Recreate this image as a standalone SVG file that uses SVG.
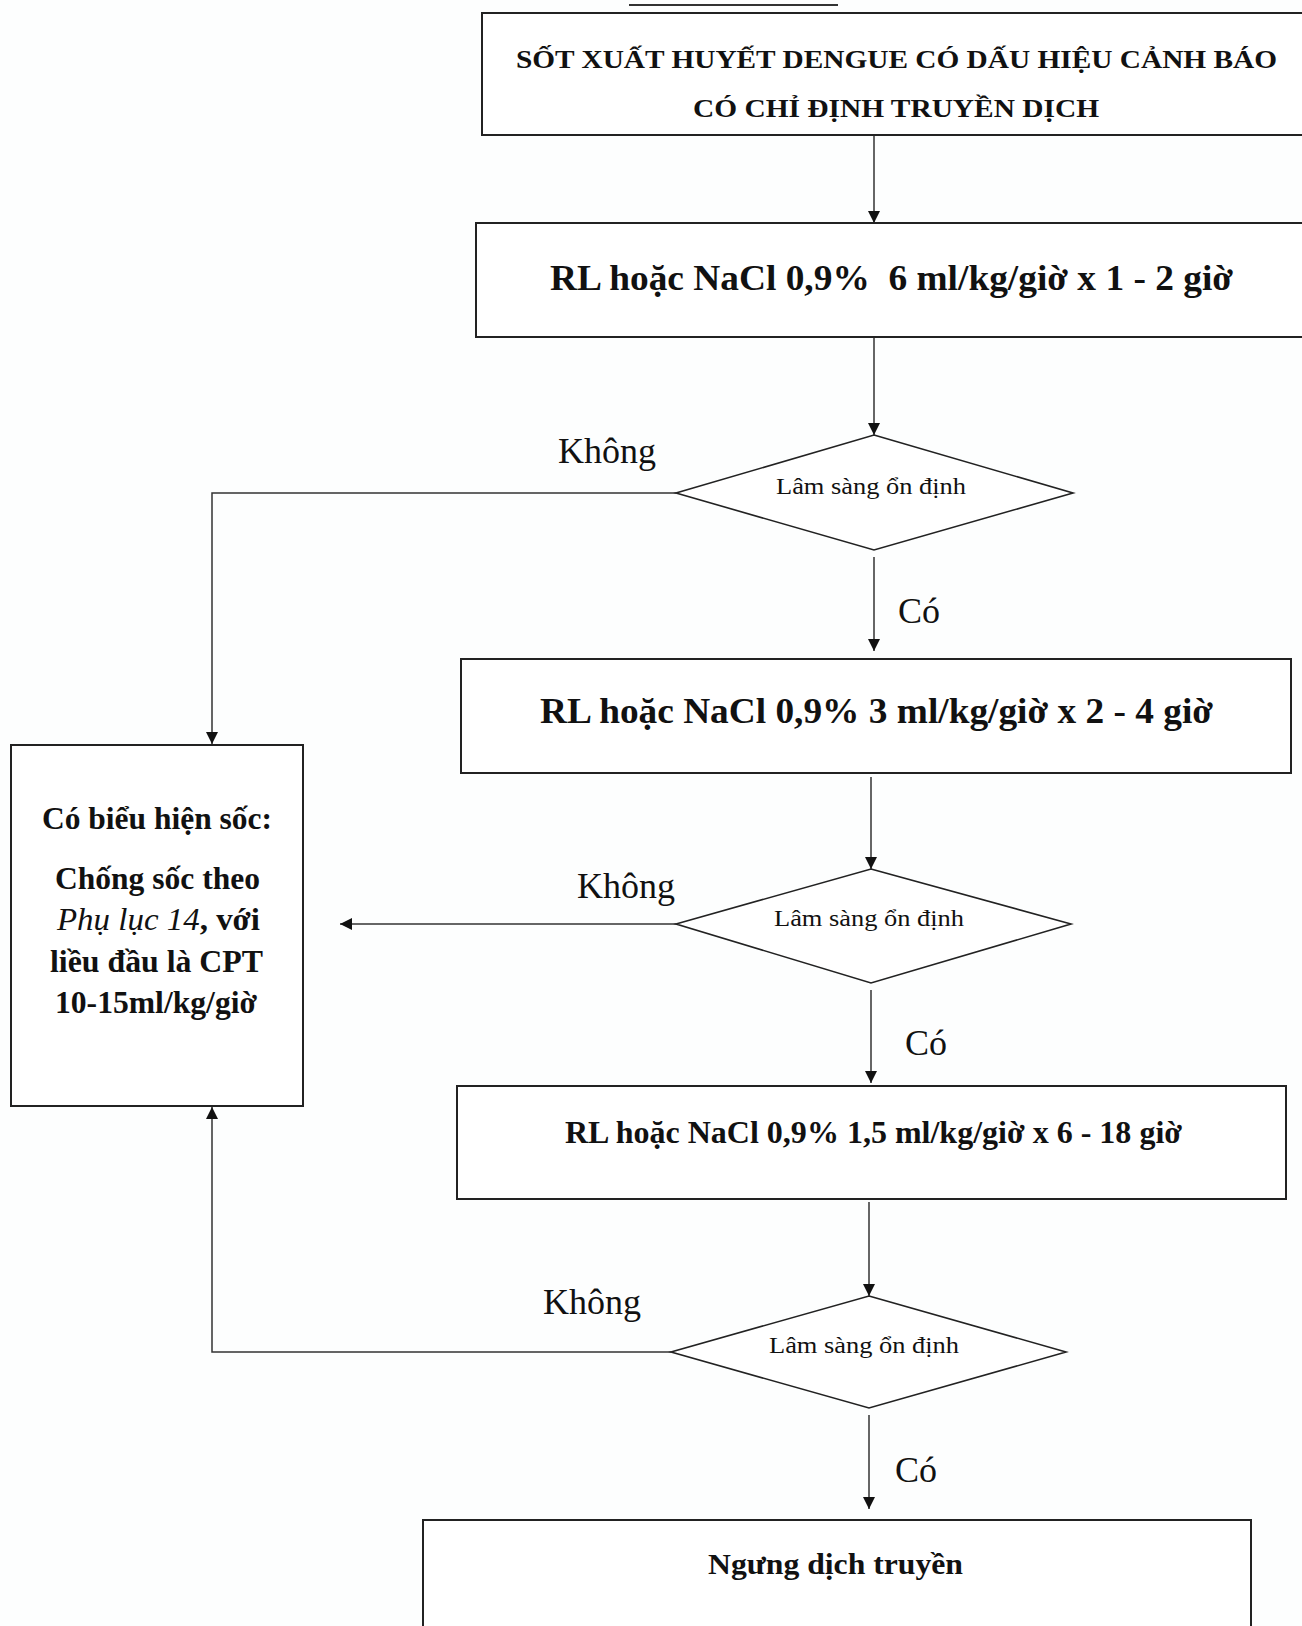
<svg xmlns="http://www.w3.org/2000/svg" width="1302" height="1626" viewBox="0 0 1302 1626">
<style>
.box{fill:#ffffff;stroke:#222;stroke-width:2}
.dia{fill:#ffffff;stroke:#222;stroke-width:1.6}
.ln{fill:none;stroke:#333;stroke-width:1.5}
.t{font-family:"Liberation Serif","Times New Roman",serif;fill:#111}
.b{font-weight:bold}
.lab{font-size:36px}
.dt{font-size:24px}
</style>
<defs>
<marker id="ah" viewBox="0 0 12 14" refX="12" refY="7" markerWidth="12" markerHeight="14" markerUnits="userSpaceOnUse" orient="auto">
<path d="M0,1 L12,7 L0,13 Z" fill="#111"/>
</marker>
</defs>
<rect width="1302" height="1626" fill="#fdfefe"/>
<line x1="629" y1="5" x2="838" y2="5" stroke="#333" stroke-width="2"/>

<g id="connectors">
<line class="ln" x1="874" y1="136" x2="874" y2="223" marker-end="url(#ah)"/>
<line class="ln" x1="874" y1="338" x2="874" y2="435" marker-end="url(#ah)"/>
<polyline class="ln" points="676,493 212,493 212,744" marker-end="url(#ah)"/>
<line class="ln" x1="874" y1="557" x2="874" y2="651" marker-end="url(#ah)"/>
<line class="ln" x1="871" y1="777" x2="871" y2="869" marker-end="url(#ah)"/>
<line class="ln" x1="676" y1="924" x2="340" y2="924" marker-end="url(#ah)"/>
<line class="ln" x1="871" y1="990" x2="871" y2="1083" marker-end="url(#ah)"/>
<line class="ln" x1="869" y1="1202" x2="869" y2="1296" marker-end="url(#ah)"/>
<polyline class="ln" points="671,1352 212,1352 212,1107" marker-end="url(#ah)"/>
<line class="ln" x1="869" y1="1415" x2="869" y2="1509" marker-end="url(#ah)"/>
<text class="t lab" x="558" y="463">Không</text>
<text class="t lab" x="898" y="623">Có</text>
<text class="t lab" x="577" y="898">Không</text>
<text class="t lab" x="905" y="1055">Có</text>
<text class="t lab" x="543" y="1314">Không</text>
<text class="t lab" x="895" y="1482">Có</text>
</g>

<g id="n1">
<rect class="box" x="482" y="13" width="840" height="122"/>
<text class="t b" x="516" y="68" font-size="25" textLength="761" lengthAdjust="spacingAndGlyphs">SỐT XUẤT HUYẾT DENGUE CÓ DẤU HIỆU CẢNH BÁO</text>
<text class="t b" x="693" y="117" font-size="25" textLength="406" lengthAdjust="spacingAndGlyphs">CÓ CHỈ ĐỊNH TRUYỀN DỊCH</text>
</g>

<g id="n2">
<rect class="box" x="476" y="223" width="846" height="114"/>
<text class="t b" x="550" y="290" font-size="36" textLength="683" lengthAdjust="spacingAndGlyphs" xml:space="preserve">RL hoặc NaCl 0,9%  6 ml/kg/giờ x 1 - 2 giờ</text>
</g>

<g id="d1">
<polygon class="dia" points="874,435 1073,493 874,550 676,493"/>
<text class="t dt" x="776" y="494" textLength="190" lengthAdjust="spacingAndGlyphs">Lâm sàng ổn định</text>
</g>

<g id="n3">
<rect class="box" x="461" y="659" width="830" height="114"/>
<text class="t b" x="540" y="723" font-size="36" textLength="673" lengthAdjust="spacingAndGlyphs">RL hoặc NaCl 0,9% 3 ml/kg/giờ x 2 - 4 giờ</text>
</g>

<g id="d2">
<polygon class="dia" points="871,869 1071,924 871,983 676,924"/>
<text class="t dt" x="774" y="926" textLength="190" lengthAdjust="spacingAndGlyphs">Lâm sàng ổn định</text>
</g>

<g id="n4">
<rect class="box" x="457" y="1086" width="829" height="113"/>
<text class="t b" x="565" y="1143" font-size="32" textLength="617" lengthAdjust="spacingAndGlyphs">RL hoặc NaCl 0,9% 1,5 ml/kg/giờ x 6 - 18 giờ</text>
</g>

<g id="d3">
<polygon class="dia" points="869,1296 1066,1352 869,1408 671,1352"/>
<text class="t dt" x="769" y="1353" textLength="190" lengthAdjust="spacingAndGlyphs">Lâm sàng ổn định</text>
</g>

<g id="n5">
<rect class="box" x="423" y="1520" width="828" height="130"/>
<text class="t b" x="708" y="1574" font-size="30" textLength="255" lengthAdjust="spacingAndGlyphs">Ngưng dịch truyền</text>
</g>

<g id="n6">
<rect class="box" x="11" y="745" width="292" height="361"/>
<text class="t b" x="42" y="829" font-size="31" textLength="230" lengthAdjust="spacingAndGlyphs">Có biểu hiện sốc:</text>
<text class="t b" x="55" y="889" font-size="31" textLength="205" lengthAdjust="spacingAndGlyphs">Chống sốc theo</text>
<text class="t" x="57" y="930" font-size="31" textLength="203" lengthAdjust="spacingAndGlyphs"><tspan font-style="italic">Phụ lục 14</tspan><tspan font-weight="bold">, với</tspan></text>
<text class="t b" x="50" y="972" font-size="31" textLength="213" lengthAdjust="spacingAndGlyphs">liều đầu là CPT</text>
<text class="t b" x="55" y="1013" font-size="31" textLength="202" lengthAdjust="spacingAndGlyphs">10-15ml/kg/giờ</text>
</g>
</svg>
